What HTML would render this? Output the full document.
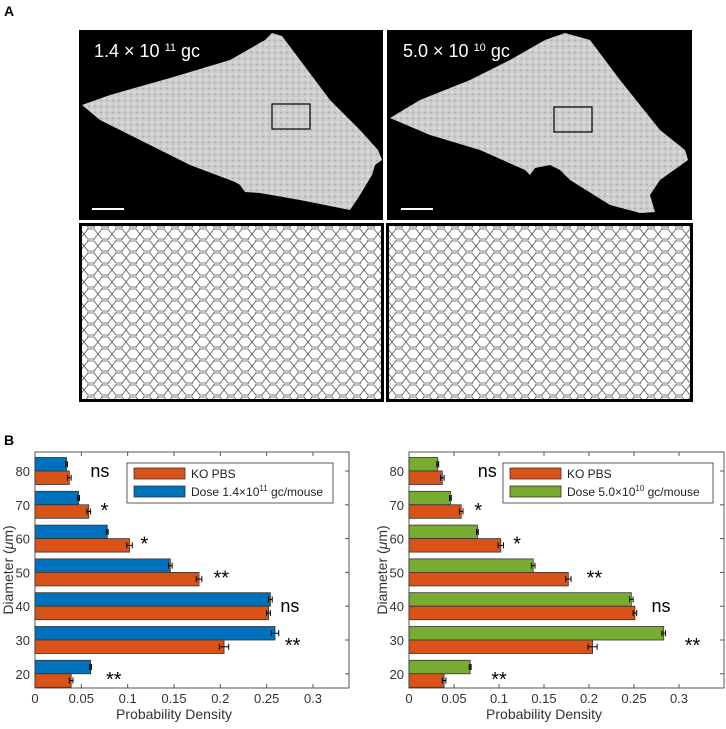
<!DOCTYPE html>
<html><head><meta charset="utf-8"><style>
body{margin:0;background:#fff;width:726px;height:729px;overflow:hidden;font-family:"Liberation Sans",Arial,sans-serif}
svg{display:block}
</style></head><body>
<svg id="fig" width="726" height="729" viewBox="0 0 726 729" xmlns="http://www.w3.org/2000/svg" font-family="Liberation Sans, Arial, sans-serif">
<defs>
<pattern id="cells" width="14" height="12" patternUnits="userSpaceOnUse">
<rect width="14" height="12" fill="#fff"/>
<path d="M0 6 L4 1 L10 1 L14 6 L10 11 L4 11 Z M4 1 L3 -2 M10 11 L11 14" fill="none" stroke="#555" stroke-width="0.8"/>
</pattern>
<pattern id="tissue" width="6" height="6" patternUnits="userSpaceOnUse">
<rect width="6" height="6" fill="#cdcdcd"/>
<circle cx="2" cy="2" r="0.9" fill="#f0f0f0"/><circle cx="5" cy="4.5" r="0.7" fill="#999"/>
</pattern>
</defs>
<text x="4" y="16" font-size="14" font-weight="bold">A</text>
<text x="4" y="445" font-size="14" font-weight="bold">B</text>

<g>
<rect x="79" y="30" width="304" height="190" fill="#000"/>
<polygon fill="url(#tissue)" points="82,105 110,95 170,78 230,60 265,40 272,33 282,36 300,60 330,100 360,130 378,150 382,160 375,165 372,175 360,195 350,210 340,208 300,200 260,193 245,192 240,185 235,182 190,165 140,140 100,120"/>
<rect x="272" y="104" width="38" height="25" fill="none" stroke="#000" stroke-width="1.2"/>
<line x1="92" y1="209" x2="124" y2="209" stroke="#fff" stroke-width="2"/>
<text x="94" y="57" font-size="18" fill="#fff">1.4 × 10 <tspan font-size="11" dy="-6">11</tspan><tspan dy="6"> gc</tspan></text>
</g>
<g>
<rect x="387" y="30" width="305" height="190" fill="#000"/>
<polygon fill="url(#tissue)" points="390,118 420,100 470,80 510,60 545,40 565,33 590,40 620,80 660,130 685,150 688,160 660,180 650,195 655,212 640,213 610,205 570,180 560,170 550,165 535,168 530,175 525,170 480,150 430,135"/>
<rect x="554" y="107" width="38" height="25" fill="none" stroke="#000" stroke-width="1.2"/>
<line x1="401" y1="209" x2="433" y2="209" stroke="#fff" stroke-width="2"/>
<text x="403" y="57" font-size="18" fill="#fff">5.0 × 10 <tspan font-size="11" dy="-6">10</tspan><tspan dy="6"> gc</tspan></text>
</g>
<rect x="80.5" y="224.5" width="302" height="176" fill="url(#cells)" stroke="#000" stroke-width="3"/>
<rect x="387.5" y="224.5" width="304" height="176" fill="url(#cells)" stroke="#000" stroke-width="3"/>
<g id="chartL"></g>
<g id="chartR"></g>
</svg>
<script>
const categories=[80,70,60,50,40,30,20];
const koL=[0.037,0.058,0.102,0.177,0.252,0.204,0.039];
const doseL=[0.034,0.047,0.078,0.146,0.254,0.259,0.060];
const koErrL=[0.002,0.002,0.003,0.003,0.002,0.005,0.002];
const doseErrL=[0.001,0.001,0.001,0.002,0.002,0.004,0.001];
const koR=[0.037,0.058,0.102,0.177,0.251,0.204,0.039];
const doseR=[0.032,0.046,0.076,0.138,0.247,0.283,0.068];
const koErrR=[0.002,0.002,0.003,0.003,0.002,0.005,0.002];
const doseErrR=[0.001,0.001,0.001,0.002,0.002,0.002,0.001];
const sigLabels=["ns","*","*","**","ns","**","**"];
const sigValsL=[0.07,0.075,0.118,0.201,0.275,0.278,0.085];
const sigValsR=[0.087,0.077,0.12,0.206,0.28,0.315,0.1];
const xTicks=[0,0.05,0.1,0.15,0.2,0.25,0.3];
const xTickLabels=["0","0.05","0.1","0.15","0.2","0.25","0.3"];
const NS="http://www.w3.org/2000/svg";
function mk(p,t,a){const e=document.createElementNS(NS,t);for(const k in a)e.setAttribute(k,a[k]);p.appendChild(e);return e;}
function draw(g,x0,x1,pxPerUnit,dose,ko,dErr,kErr,sigVals,color,legText,legExp,legX,legW){
 const top=452,bot=688,y80=471,step=33.8;
 const X=v=>x0+v*pxPerUnit, Y=i=>y80+i*step;
 mk(g,'rect',{x:x0,y:top,width:x1-x0,height:bot-top,fill:'#fff',stroke:'#555','stroke-width':1});
 xTicks.forEach((t,i)=>{
  const tk=mk(g,'line',{x1:X(t),x2:X(t),y1:bot,y2:bot-4,stroke:'#555'});
  
  mk(g,'line',{x1:X(t),x2:X(t),y1:top,y2:top+4,stroke:'#555'});
  const tl=mk(g,'text',{x:X(t),y:bot+15,'font-size':13,'text-anchor':'middle',fill:'#333'});tl.textContent=xTickLabels[i];
  
 });
 categories.forEach((c,i)=>{
  const y=Y(i);
  mk(g,'line',{x1:x0,x2:x0+4,y1:y,y2:y,stroke:'#555'});
  mk(g,'line',{x1:x1,x2:x1-4,y1:y,y2:y,stroke:'#555'});
  const tl=mk(g,'text',{x:x0-5,y:y+5,'font-size':13,'text-anchor':'end',fill:'#333'});tl.textContent=c;
  
  const b1=mk(g,'rect',{x:x0,y:y-13.5,width:X(dose[i])-x0,height:13.5,fill:color,stroke:'#333','stroke-width':0.8});
  
  const b2=mk(g,'rect',{x:x0,y:y,width:X(ko[i])-x0,height:13.5,fill:'#D95319',stroke:'#333','stroke-width':0.8});
  
  [[dose[i],dErr[i],y-6.75],[ko[i],kErr[i],y+6.75]].forEach(([v,e,yy])=>{
   const eb=mk(g,'path',{d:`M${X(v-e)} ${yy}H${X(v+e)}M${X(v-e)} ${yy-3}V${yy+3}M${X(v+e)} ${yy-3}V${yy+3}`,stroke:'#000','stroke-width':1,fill:'none'});
   
  });
  const s=sigLabels[i];
  const st=mk(g,'text',{x:X(sigVals[i]),y:s==='ns'?y+6:y+12,'font-size':s==='ns'?18:20,fill:'#000','text-anchor':'middle'});
  st.textContent=s;
 });
 const yt=mk(g,'text',{x:0,y:0,'font-size':14,fill:'#333','text-anchor':'middle',transform:`translate(${x0-22},${(top+bot)/2}) rotate(-90)`});
 yt.innerHTML='Diameter (<tspan font-style="italic">μ</tspan>m)';
 
 const xt=mk(g,'text',{x:X(0.15),y:bot+31,'font-size':14,fill:'#333','text-anchor':'middle'});xt.textContent='Probability Density';
 
 const lg=mk(g,'g',{});
 
 mk(lg,'rect',{x:legX,y:463,width:legW,height:40,fill:'#fff',stroke:'#333','stroke-width':0.8});
 mk(lg,'rect',{x:legX+7,y:468,width:51,height:11,fill:'#D95319',stroke:'#333','stroke-width':0.8});
 mk(lg,'rect',{x:legX+7,y:486,width:51,height:11,fill:color,stroke:'#333','stroke-width':0.8});
 const l1=mk(lg,'text',{x:legX+64,y:478,'font-size':12,fill:'#222'});l1.textContent='KO PBS';
 
 const l2=mk(lg,'text',{x:legX+64,y:496,'font-size':12,fill:'#222'});
 l2.innerHTML=legText+'×10<tspan font-size="8" dy="-5">'+legExp+'</tspan><tspan dy="5"> gc/mouse</tspan>';
 
}
draw(document.getElementById('chartL'),35,349,926.7,doseL,koL,doseErrL,koErrL,sigValsL,'#0072BD','Dose 1.4','11',127,206);
draw(document.getElementById('chartR'),409,724,900,doseR,koR,doseErrR,koErrR,sigValsR,'#77AC30','Dose 5.0','10',503,210);
</script>
</body></html>
